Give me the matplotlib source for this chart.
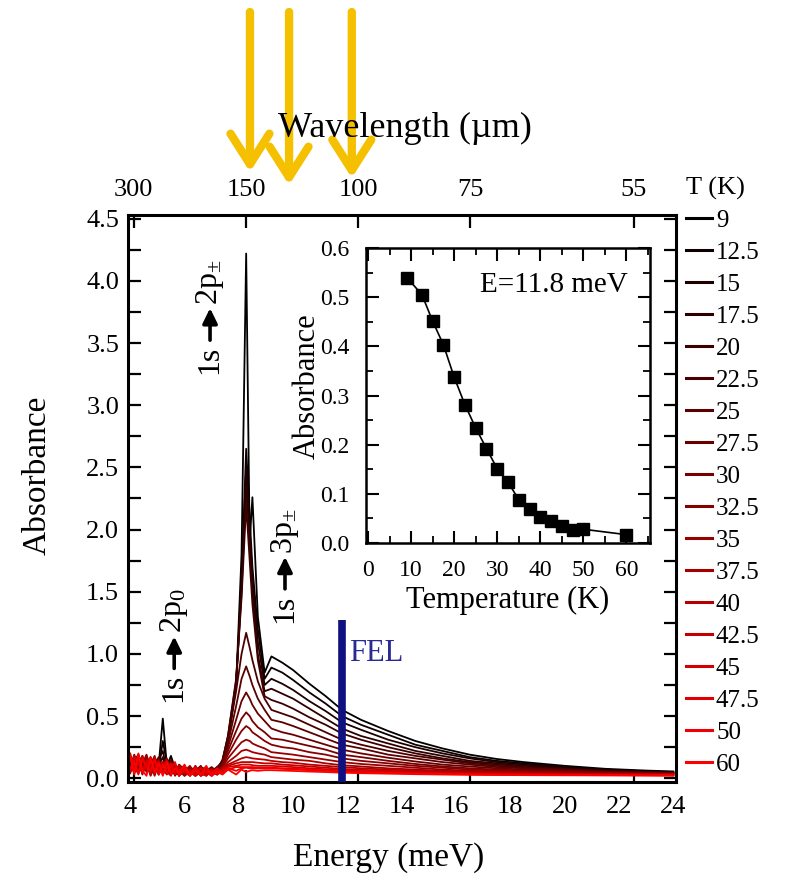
import matplotlib
matplotlib.use('Agg')
import matplotlib.pyplot as plt
from matplotlib import transforms
from matplotlib.ticker import FixedLocator, MultipleLocator, FormatStrFormatter

plt.rcParams['font.family'] = ['Liberation Serif', 'DejaVu Serif']
plt.rcParams['mathtext.fontset'] = 'custom'
plt.rcParams['mathtext.rm'] = 'Liberation Serif'
plt.rcParams['mathtext.it'] = 'Liberation Serif:italic'
plt.rcParams['mathtext.bf'] = 'Liberation Serif:bold'

# ---------------- data ----------------
temp_labels = ['9', '12.5', '15', '17.5', '20', '22.5', '25', '27.5', '30',
               '32.5', '35', '37.5', '40', '42.5', '45', '47.5', '50', '60']

energy = [4.0, 4.15, 4.3, 4.45, 4.6, 4.75, 4.9, 5.05, 5.2, 5.35, 5.5, 5.65, 5.8, 6.0,
          6.2, 6.4, 6.6, 6.8, 7.0, 7.2, 7.4,
          7.6, 7.9, 8.1, 8.27, 8.4, 8.5, 8.7, 8.95,
          9.2, 9.6, 10.0, 10.6, 11.2, 11.8, 12.5, 13.5, 14.5, 15.5, 16.5, 17.5,
          18.5, 20.0, 21.5, 23.0, 24.0]

abs_9K = [0.10, 0.16, 0.08, 0.14, 0.06, 0.12, 0.09, 0.11, 0.48, 0.10, 0.18, 0.08, 0.06, 0.04,
          0.07, 0.03, 0.06, 0.04, 0.07, 0.05, 0.12,
          0.30, 0.75, 1.80, 4.22, 1.90, 2.26, 1.30, 0.85,
          0.98, 0.93, 0.87, 0.76, 0.66, 0.55, 0.47, 0.38, 0.30, 0.24, 0.19, 0.155,
          0.13, 0.10, 0.076, 0.062, 0.055]
abs_12K5 = [0.15, 0.07, 0.17, 0.09, 0.13, 0.05, 0.14, 0.08, 0.30, 0.12, 0.14, 0.05, 0.09, 0.06,
            0.03, 0.08, 0.04, 0.07, 0.03, 0.09, 0.13,
            0.30, 0.75, 1.60, 2.65, 2.10, 1.70, 1.20, 0.80,
            0.89, 0.85, 0.79, 0.69, 0.60, 0.50, 0.43, 0.35, 0.27, 0.22, 0.17, 0.14,
            0.12, 0.09, 0.07, 0.056, 0.05]
abs_15K = [0.07, 0.18, 0.10, 0.05, 0.16, 0.09, 0.04, 0.15, 0.22, 0.06, 0.12, 0.09, 0.03, 0.08,
           0.05, 0.02, 0.09, 0.05, 0.08, 0.04, 0.14,
           0.32, 0.75, 1.55, 2.50, 2.00, 1.60, 1.10, 0.75,
           0.80, 0.76, 0.71, 0.62, 0.54, 0.45, 0.39, 0.31, 0.25, 0.20, 0.16, 0.13,
           0.11, 0.085, 0.065, 0.053, 0.047]
abs_17K5 = [0.18, 0.09, 0.04, 0.15, 0.08, 0.17, 0.06, 0.10, 0.17, 0.05, 0.10, 0.04, 0.08, 0.03,
            0.09, 0.06, 0.03, 0.08, 0.05, 0.07, 0.15,
            0.34, 0.78, 1.50, 2.35, 1.90, 1.50, 1.00, 0.70,
            0.72, 0.68, 0.64, 0.56, 0.48, 0.40, 0.34, 0.28, 0.22, 0.18, 0.14, 0.12,
            0.10, 0.08, 0.06, 0.05, 0.045]
abs_20K = [0.05, 0.14, 0.19, 0.07, 0.12, 0.03, 0.16, 0.07, 0.13, 0.09, 0.05, 0.11, 0.04, 0.07,
           0.02, 0.09, 0.05, 0.03, 0.08, 0.06, 0.14,
           0.34, 0.80, 1.45, 2.20, 1.75, 1.40, 0.95, 0.66,
           0.63, 0.60, 0.56, 0.49, 0.43, 0.36, 0.31, 0.25, 0.20, 0.16, 0.13, 0.11,
           0.09, 0.075, 0.06, 0.05, 0.045]
abs_22K5 = [0.13, 0.04, 0.12, 0.18, 0.05, 0.14, 0.10, 0.03, 0.11, 0.15, 0.06, 0.03, 0.10, 0.05,
            0.08, 0.03, 0.07, 0.09, 0.04, 0.08, 0.14,
            0.32, 0.70, 1.00, 1.17, 1.05, 0.95, 0.78, 0.64,
            0.55, 0.52, 0.49, 0.43, 0.37, 0.31, 0.27, 0.22, 0.18, 0.15, 0.12, 0.10,
            0.085, 0.07, 0.055, 0.047, 0.043]
abs_25K = [0.09, 0.19, 0.06, 0.11, 0.15, 0.04, 0.12, 0.17, 0.06, 0.09, 0.13, 0.07, 0.02, 0.09,
           0.04, 0.07, 0.02, 0.06, 0.09, 0.05, 0.13,
           0.28, 0.58, 0.80, 0.90, 0.82, 0.75, 0.64, 0.55,
           0.47, 0.45, 0.42, 0.37, 0.32, 0.27, 0.24, 0.19, 0.16, 0.13, 0.11, 0.09,
           0.08, 0.065, 0.052, 0.045, 0.042]
abs_27K5 = [0.17, 0.08, 0.14, 0.03, 0.18, 0.09, 0.05, 0.13, 0.08, 0.04, 0.15, 0.02, 0.07, 0.10,
            0.03, 0.06, 0.10, 0.03, 0.06, 0.09, 0.12,
            0.25, 0.47, 0.62, 0.69, 0.64, 0.59, 0.52, 0.46,
            0.40, 0.37, 0.35, 0.31, 0.27, 0.23, 0.20, 0.165, 0.135, 0.11, 0.095, 0.08,
            0.07, 0.06, 0.05, 0.043, 0.04]
abs_30K = [0.04, 0.15, 0.09, 0.16, 0.06, 0.11, 0.18, 0.04, 0.12, 0.07, 0.03, 0.10, 0.06, 0.02,
           0.09, 0.04, 0.08, 0.05, 0.02, 0.07, 0.11,
           0.22, 0.38, 0.48, 0.53, 0.50, 0.46, 0.41, 0.37,
           0.32, 0.31, 0.29, 0.26, 0.23, 0.19, 0.17, 0.14, 0.115, 0.095, 0.08, 0.07,
           0.062, 0.055, 0.046, 0.04, 0.038]
abs_32K5 = [0.14, 0.06, 0.19, 0.08, 0.13, 0.02, 0.10, 0.15, 0.05, 0.12, 0.08, 0.05, 0.11, 0.07,
            0.03, 0.10, 0.03, 0.07, 0.05, 0.03, 0.10,
            0.19, 0.31, 0.38, 0.42, 0.40, 0.37, 0.34, 0.30,
            0.27, 0.25, 0.24, 0.21, 0.19, 0.16, 0.14, 0.12, 0.10, 0.085, 0.07, 0.063,
            0.056, 0.05, 0.043, 0.038, 0.036]
abs_35K = [0.08, 0.17, 0.05, 0.12, 0.19, 0.07, 0.14, 0.03, 0.10, 0.16, 0.04, 0.08, 0.02, 0.06,
           0.10, 0.02, 0.05, 0.09, 0.03, 0.06, 0.09,
           0.16, 0.24, 0.29, 0.31, 0.30, 0.28, 0.26, 0.24,
           0.21, 0.20, 0.19, 0.17, 0.15, 0.13, 0.115, 0.10, 0.085, 0.07, 0.06, 0.055,
           0.05, 0.045, 0.04, 0.036, 0.034]
abs_37K5 = [0.19, 0.05, 0.13, 0.07, 0.15, 0.10, 0.02, 0.12, 0.07, 0.03, 0.11, 0.06, 0.09, 0.02,
            0.05, 0.08, 0.02, 0.04, 0.08, 0.04, 0.08,
            0.13, 0.18, 0.22, 0.23, 0.22, 0.21, 0.20, 0.19,
            0.17, 0.16, 0.15, 0.14, 0.12, 0.105, 0.095, 0.08, 0.07, 0.06, 0.053, 0.048,
            0.045, 0.04, 0.036, 0.033, 0.032]
abs_40K = [0.06, 0.13, 0.17, 0.04, 0.10, 0.16, 0.08, 0.14, 0.03, 0.09, 0.05, 0.12, 0.03, 0.08,
           0.04, 0.06, 0.09, 0.02, 0.06, 0.03, 0.08,
           0.11, 0.14, 0.16, 0.17, 0.165, 0.16, 0.155, 0.15,
           0.14, 0.13, 0.125, 0.11, 0.10, 0.09, 0.08, 0.07, 0.06, 0.053, 0.047, 0.043,
           0.04, 0.036, 0.033, 0.031, 0.03]
abs_42K5 = [0.16, 0.09, 0.04, 0.18, 0.07, 0.13, 0.05, 0.09, 0.13, 0.05, 0.02, 0.09, 0.07, 0.04,
            0.07, 0.02, 0.05, 0.07, 0.03, 0.06, 0.07,
            0.10, 0.12, 0.13, 0.13, 0.13, 0.13, 0.125, 0.12,
            0.12, 0.11, 0.105, 0.095, 0.085, 0.075, 0.068, 0.06, 0.052, 0.046, 0.041, 0.038,
            0.036, 0.033, 0.03, 0.029, 0.028]
abs_45K = [0.05, 0.18, 0.11, 0.07, 0.14, 0.03, 0.17, 0.06, 0.10, 0.14, 0.07, 0.03, 0.10, 0.05,
           0.02, 0.08, 0.04, 0.02, 0.07, 0.03, 0.06,
           0.09, 0.10, 0.11, 0.11, 0.11, 0.105, 0.10, 0.10,
           0.10, 0.095, 0.09, 0.08, 0.073, 0.064, 0.058, 0.052, 0.046, 0.041, 0.037, 0.034,
           0.032, 0.03, 0.028, 0.027, 0.026]
abs_47K5 = [0.20, 0.07, 0.15, 0.04, 0.12, 0.17, 0.04, 0.13, 0.05, 0.08, 0.12, 0.04, 0.06, 0.09,
            0.04, 0.03, 0.08, 0.05, 0.02, 0.06, 0.05,
            0.07, 0.09, 0.09, 0.09, 0.09, 0.09, 0.085, 0.085,
            0.085, 0.08, 0.077, 0.07, 0.063, 0.056, 0.05, 0.045, 0.04, 0.036, 0.033, 0.031,
            0.029, 0.027, 0.026, 0.025, 0.024]
abs_50K = [0.08, 0.14, 0.03, 0.16, 0.09, 0.06, 0.15, 0.03, 0.11, 0.04, 0.09, 0.13, 0.02, 0.07,
           0.03, 0.09, 0.02, 0.06, 0.04, 0.08, 0.04,
           0.08, 0.06, 0.08, 0.085, 0.08, 0.08, 0.08, 0.08,
           0.08, 0.076, 0.072, 0.065, 0.06, 0.053, 0.048, 0.043, 0.038, 0.034, 0.031, 0.029,
           0.028, 0.026, 0.025, 0.024, 0.023]
abs_60K = [0.18, 0.03, 0.20, 0.06, 0.02, 0.16, 0.05, 0.12, 0.02, 0.13, 0.03, 0.08, 0.04, 0.11,
           0.02, 0.06, 0.03, 0.10, 0.02, 0.05, 0.03,
           0.07, 0.03, 0.07, 0.05, 0.06, 0.065, 0.06, 0.065,
           0.065, 0.062, 0.059, 0.054, 0.05, 0.045, 0.041, 0.037, 0.033, 0.03, 0.028, 0.026,
           0.025, 0.024, 0.023, 0.022, 0.021]

spectra = [abs_9K, abs_12K5, abs_15K, abs_17K5, abs_20K, abs_22K5, abs_25K, abs_27K5,
           abs_30K, abs_32K5, abs_35K, abs_37K5, abs_40K, abs_42K5, abs_45K, abs_47K5,
           abs_50K, abs_60K]

inset_T = [9, 12.5, 15, 17.5, 20, 22.5, 25, 27.5, 30, 32.5, 35, 37.5, 40, 42.5, 45, 47.5, 50, 60]
inset_A = [0.540, 0.505, 0.451, 0.403, 0.337, 0.281, 0.234, 0.192, 0.151, 0.124, 0.088,
           0.070, 0.052, 0.045, 0.035, 0.026, 0.028, 0.017]

energy_ticks = [4, 6, 8, 10, 12, 14, 16, 18, 20, 22, 24]
wavelength_ticks = [300, 150, 100, 75, 55]
fel_energy = 11.8
fel_top = 1.27
arrow_energies = [8.41, 9.85, 12.16]

# ---------------- figure ----------------
W, H = 786, 885
fig = plt.figure(figsize=(W / 100, H / 100), dpi=100)
ax = fig.add_axes([127.5 / W, 1 - 782 / H, 548.5 / W, 567 / H])

n = len(spectra)
colors = [(i / (n - 1), 0.0, 0.0) for i in range(n)]
for spec, col, lab in zip(spectra, colors, temp_labels):
    ax.plot(energy, spec, color=col, lw=1.3, label=lab)

ax.set_xlim(3.9, 24.1)
ax.set_ylim(-0.03, 4.53)

# FEL line
ax.plot([fel_energy, fel_energy], [-0.03, fel_top], color='#101080', lw=5.5,
        solid_capstyle='butt', zorder=5)
ax.text(fel_energy + 0.25, 1.0, 'FEL', color='#2a2a95', fontsize=22, va='center', ha='left')


# transition labels: "1s", bold arrow, final state, stacked vertically
def off(dy):
    return transforms.offset_copy(ax.transData, fig=fig, x=0, y=dy, units='dots')


def transition(x, y0, final):
    ax.text(x, y0, '1s', rotation=90, fontsize=23, ha='center', va='bottom',
            transform=off(0))
    ax.annotate('', xy=(x, y0), xycoords=off(66), xytext=(x, y0), textcoords=off(34),
                arrowprops=dict(arrowstyle='-|>,head_length=0.45,head_width=0.22',
                                color='black', lw=2.6, mutation_scale=20,
                                shrinkA=0, shrinkB=0))
    ax.text(x, y0, final, rotation=90, fontsize=23, ha='center', va='bottom',
            transform=off(69))


transition(6.94, 3.25, r'2p$_{\pm}$')
transition(5.62, 0.61, r'2p$_{0}$')
transition(9.70, 1.25, r'3p$_{\pm}$')

# axes styling
for s in ax.spines.values():
    s.set_linewidth(2.2)
wl_pos = [1239.84 / w for w in wavelength_ticks]
ax.set_xticks(energy_ticks)
ax.set_xticklabels([str(t) for t in energy_ticks])
ax.xaxis.set_minor_locator(FixedLocator(wl_pos))
ax.tick_params(axis='x', which='major', length=0, pad=10, labelsize=19)
ax.tick_params(axis='x', which='minor', direction='in', length=9, width=1.6,
               top=True, bottom=True)
ax.yaxis.set_major_locator(MultipleLocator(0.5))
ax.yaxis.set_minor_locator(MultipleLocator(0.25))
ax.yaxis.set_major_formatter(FormatStrFormatter('%.1f'))
ax.tick_params(axis='y', which='both', direction='in', length=9, width=1.6,
               left=True, right=True, labelsize=19, pad=6)
ax.set_xlabel('Energy (meV)', fontsize=24)
ax.set_ylabel('Absorbance', fontsize=24)
ax.xaxis.set_label_coords((389 - 127.5) / 548.5, -(858 - 782) / 567)
ax.xaxis.label.set_va('center')
ax.yaxis.set_label_coords((37 - 127.5) / 548.5, (782 - 475) / 567)
ax.yaxis.label.set_va('center')

# top wavelength axis
sec = ax.secondary_xaxis('top')
sec.set_xticks(wl_pos)
sec.set_xticklabels([str(w) for w in wavelength_ticks])
sec.tick_params(length=0, pad=10, labelsize=19)
sec.spines['top'].set_visible(False)
fig.text(405 / W, 1 - 128 / H, 'Wavelength (\u00b5m)', fontsize=26, ha='center', va='center')

# legend
handles, labels = ax.get_legend_handles_labels()
leg = fig.legend(handles, labels, loc='upper left', bbox_to_anchor=(686 / W, 1 - 177 / H),
                 frameon=False, title='T (K)', alignment='left', fontsize=18,
                 title_fontproperties={'size': 19}, handlelength=1.05, handletextpad=0.15,
                 labelspacing=0.38, borderpad=0, borderaxespad=0)
for line in leg.get_lines():
    line.set_linewidth(2.2)

# yellow arrows
trans = transforms.blended_transform_factory(ax.transData, fig.transFigure)
tips = [1 - 172 / H, 1 - 185 / H, 1 - 178 / H]
for e, t in zip(arrow_energies, tips):
    ax.annotate('', xy=(e, t), xytext=(e, 1 - 12 / H), xycoords=trans, textcoords=trans,
                arrowprops=dict(arrowstyle='->,head_length=1.1,head_width=0.7',
                                color='#f5c000', lw=6, mutation_scale=20,
                                shrinkA=0, shrinkB=0),
                annotation_clip=False, zorder=10)

# inset
axi = fig.add_axes([366 / W, 1 - 543 / H, 284 / W, 295 / H])
axi.plot(inset_T, inset_A, color='black', lw=1.2, marker='s', markersize=8.5)
axi.set_xlim(-0.5, 65.5)
axi.set_ylim(0, 0.6)
for s in axi.spines.values():
    s.set_linewidth(1.8)
axi.xaxis.set_major_locator(MultipleLocator(10))
axi.xaxis.set_minor_locator(MultipleLocator(5))
axi.yaxis.set_major_locator(MultipleLocator(0.1))
axi.yaxis.set_minor_locator(MultipleLocator(0.05))
axi.yaxis.set_major_formatter(FormatStrFormatter('%.1f'))
axi.tick_params(which='major', direction='in', length=9, width=1.5,
                top=True, right=True, labelsize=17, pad=12)
axi.tick_params(which='minor', direction='in', length=5, width=1.3, top=True, right=True)
axi.set_xlabel('Temperature (K)', fontsize=22)
axi.set_ylabel('Absorbance', fontsize=22)
axi.xaxis.set_label_coords(0.5, -(600 - 543) / 295)
axi.xaxis.label.set_va('center')
axi.yaxis.set_label_coords(-(366 - 307) / 284, 0.53)
axi.yaxis.label.set_va('center')
axi.text(0.92, 0.875, 'E=11.8 meV', transform=axi.transAxes, fontsize=21,
         ha='right', va='center')

fig.savefig('out.png', dpi=100)
